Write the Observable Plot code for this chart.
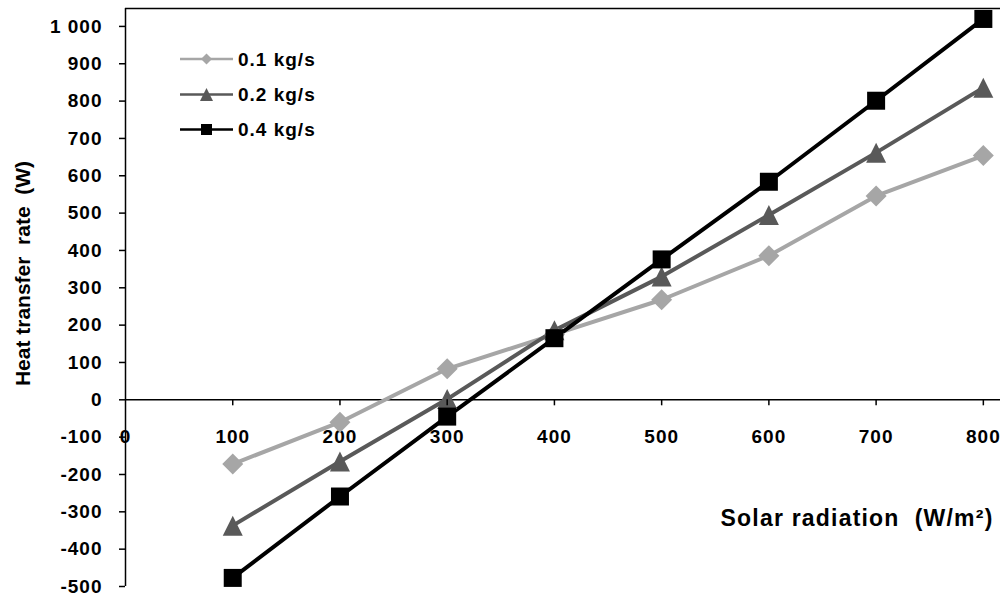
<!DOCTYPE html>
<html>
<head>
<meta charset="utf-8">
<script src="https://cdn.jsdelivr.net/npm/d3@7"></script>
<script src="https://cdn.jsdelivr.net/npm/@observablehq/plot@0.6"></script>
<style>
  html, body { margin: 0; padding: 0; background: #fff; }
  #chart { width: 1000px; height: 600px; }
  #chart svg { display: block; }
</style>
</head>
<body>
<div id="chart"></div>
<script>
// Solar radiation (W/m²) on the x axis
const radiation = [100, 200, 300, 400, 500, 600, 700, 800];

// Heat transfer rate (W) for each mass flow rate
const rate01 = [-172, -60, 83, 175, 268, 386, 546, 654];
const rate02 = [-337, -165, 2, 186, 330, 495, 662, 836];
const rate04 = [-477, -259, -45, 165, 376, 584, 801, 1020];

const seriesNames = ["0.1 kg/s", "0.2 kg/s", "0.4 kg/s"];

// Axis ticks and labels
const xTicks = [100, 200, 300, 400, 500, 600, 700, 800];
const xLabels = [0, 100, 200, 300, 400, 500, 600, 700, 800];
const yTicks = [-500, -400, -300, -200, -100, 0, 100, 200, 300, 400, 500, 600, 700, 800, 900, 1000];
const xDomain = [0, 816];
const yDomain = [-500, 1048];

const xTitle = "Solar radiation  (W/m²)";
const yTitle = "Heat transfer  rate  (W)";

// Marker shapes (square-looking diamond, triangle, square), sized from Plot's r
const diamond = {draw(ctx, size) {
  const r = Math.sqrt(size / Math.PI);
  ctx.moveTo(0, -r); ctx.lineTo(r, 0); ctx.lineTo(0, r); ctx.lineTo(-r, 0); ctx.closePath();
}};
const triangle = {draw(ctx, size) {
  const r = Math.sqrt(size / Math.PI);
  ctx.moveTo(0, -r); ctx.lineTo(r, r); ctx.lineTo(-r, r); ctx.closePath();
}};
const square = {draw(ctx, size) {
  const r = Math.sqrt(size / Math.PI);
  ctx.rect(-r, -r, 2 * r, 2 * r);
}};

const series = [
  {name: seriesNames[0], values: rate01, color: "#a6a6a6", symbol: diamond, r: 10.5, lr: 5.5},
  {name: seriesNames[1], values: rate02, color: "#595959", symbol: triangle, r: 10, lr: 6.5},
  {name: seriesNames[2], values: rate04, color: "#000000", symbol: square, r: 9, lr: 5.5}
];

const rows = series.flatMap(s => s.values.map((v, i) => ({series: s.name, x: radiation[i], y: v})));

const numFmt = d3.formatLocale({decimal: ".", thousands: " ", grouping: [3], currency: ["", ""], minus: "-"}).format(",");

const font = "'Liberation Sans', Arial, sans-serif";

const marks = [
  // zero line and top border
  Plot.ruleY([0], {stroke: "#000", strokeWidth: 1.5}),
  Plot.ruleY([yDomain[1]], {stroke: "#000", strokeWidth: 1.5}),
  // x labels sit under the zero line
  Plot.text(xLabels, {x: d => d, y: 0, dy: 37, text: d => String(d), fontSize: 19, fontWeight: "bold", fill: "#000"}),
  Plot.axisY({ticks: yTicks, tickSize: 6, tickPadding: 17, tickFormat: numFmt, label: null, fontSize: 19, fontWeight: "bold", stroke: "#000", strokeWidth: 1.5, fill: "#000"}),
  // axis titles
  Plot.text([xTitle], {frameAnchor: "right", textAnchor: "end", dx: -7, dy: 221, text: d => d, fontSize: 23, fontWeight: "bold", fill: "#000"}),
  Plot.text([yTitle], {frameAnchor: "left", textAnchor: "middle", rotate: -90, dx: -102, dy: -24, text: d => d, fontSize: 21, fontWeight: "bold", fill: "#000"})
];

for (const s of series) {
  const data = rows.filter(d => d.series === s.name);
  marks.push(Plot.line(data, {x: "x", y: "y", stroke: s.color, strokeWidth: 4}));
}
for (const s of series) {
  const data = rows.filter(d => d.series === s.name);
  marks.push(Plot.dot(data, {x: "x", y: "y", symbol: s.symbol, r: s.r, fill: s.color, stroke: "none"}));
}

const plot = Plot.plot({
  width: 1000,
  height: 600,
  marginLeft: 125,
  marginRight: 0,
  marginTop: 8,
  marginBottom: 14,
  style: {fontFamily: font, fontWeight: "bold", color: "#000", background: "#fff", overflow: "visible"},
  x: {domain: xDomain, axis: null},
  y: {domain: yDomain, axis: null},
  marks
});

const svg = d3.select(plot);
const xs = plot.scale("x");
const ys = plot.scale("y");

// Letter spacing on tick labels and the x title (the bold face is set wide)
svg.selectAll("g[aria-label='text'] text, g[aria-label='y-axis tick label'] text")
  .attr("letter-spacing", d => "1px");
svg.selectAll("g[aria-label='text'] text")
  .filter(function () { return this.textContent === yTitle; })
  .attr("letter-spacing", "0px");
svg.selectAll("g[aria-label='text'] text")
  .filter(function () { return this.textContent === xTitle; })
  .attr("letter-spacing", "1.2px");

// Left axis line and the x ticks hanging under the zero line, placed with Plot's scales
const axes = svg.append("g").attr("aria-label", "axis lines")
  .attr("stroke", "#000").attr("stroke-width", 1.5);
axes.append("line")
  .attr("x1", xs.apply(0) + 0.5).attr("x2", xs.apply(0) + 0.5)
  .attr("y1", ys.apply(yDomain[0])).attr("y2", ys.apply(yDomain[1]));
axes.selectAll(".xtick").data(xTicks).join("line")
  .attr("class", "xtick")
  .attr("x1", d => xs.apply(d) + 0.5).attr("x2", d => xs.apply(d) + 0.5)
  .attr("y1", ys.apply(0)).attr("y2", ys.apply(0) + 6);

// Legend in the upper left of the plot area
const legend = svg.append("g")
  .attr("aria-label", "legend")
  .attr("font-family", font).attr("font-weight", "bold");

const rowY = [59, 94.5, 129.5];
series.forEach((s, i) => {
  const g = legend.append("g").attr("transform", `translate(0,${rowY[i]})`);
  g.append("line").attr("x1", 180).attr("x2", 233).attr("y1", 0).attr("y2", 0)
    .attr("stroke", s.color).attr("stroke-width", 2.5);
  g.append("path").attr("transform", "translate(206.5,0)")
    .attr("d", d3.symbol(s.symbol, s.lr * s.lr * Math.PI)())
    .attr("fill", s.color);
  g.append("text").attr("x", 238).attr("y", 0).attr("dy", "0.35em")
    .attr("font-size", 19).attr("letter-spacing", "1px").attr("fill", "#000")
    .attr("text-anchor", "start")
    .text(s.name);
});

document.getElementById("chart").appendChild(plot);
</script>
</body>
</html>
